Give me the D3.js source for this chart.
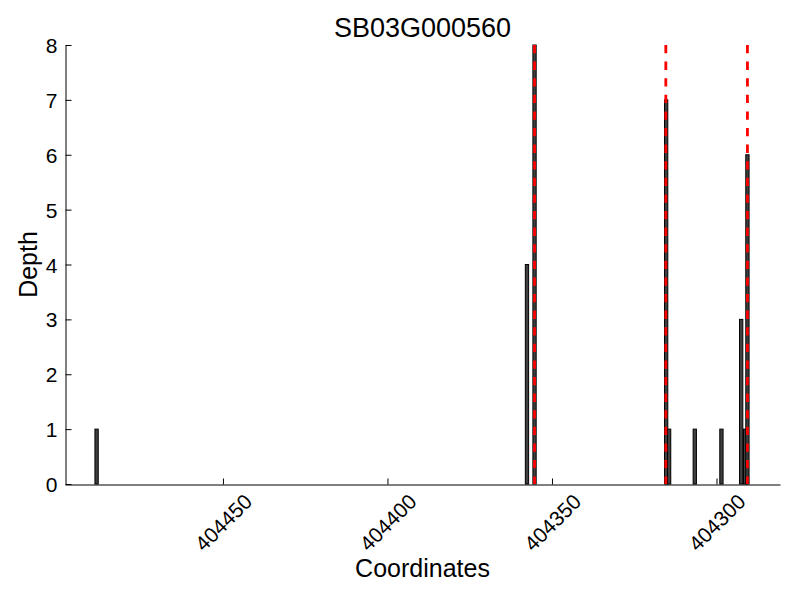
<!DOCTYPE html>
<html>
<head>
<meta charset="utf-8">
<script src="https://cdn.jsdelivr.net/npm/d3@7"></script>
<style>
  body { margin: 0; background: #fff; }
  svg text { font-family: "Liberation Sans", Arial, sans-serif; fill: #000; }
</style>
</head>
<body>
<svg id="chart" width="800" height="600"></svg>
<script>
// read depths, coordinate of each bar (axis runs high -> low)
var barCoords = [404488.4, 404357.6, 404355.3, 404315.3, 404314.4, 404306.6, 404298.5, 404292.5, 404291.3, 404290.6];
var barDepths = [1, 4, 8, 7, 1, 1, 1, 3, 1, 6];
// red dashed marker positions
var markCoords = [404355.3, 404315.4, 404290.6];
var xTicks = [404450, 404400, 404350, 404300];
var yTicks = [0, 1, 2, 3, 4, 5, 6, 7, 8];

var plotLeft = 65, plotRight = 780, plotTop = 45, plotBottom = 484;

var svg = d3.select("#chart");

var x = d3.scaleLinear().domain([404498, 404280.7]).range([plotLeft, plotRight]);
var y = d3.scaleLinear().domain([0, 8]).range([plotBottom, plotTop]);
var unit = Math.abs(x(0) - x(1));

// bars
svg.append("g").selectAll("rect")
    .data(barCoords)
    .enter().append("rect")
    .attr("x", function(d) { return x(d) - unit / 2; })
    .attr("y", function(d, i) { return y(barDepths[i]); })
    .attr("width", unit)
    .attr("height", function(d, i) { return plotBottom - y(barDepths[i]); })
    .attr("fill", "#404040")
    .attr("stroke", "#000")
    .attr("stroke-width", 1);

// red dashed lines
svg.append("g").selectAll("line")
    .data(markCoords)
    .enter().append("line")
    .attr("x1", function(d) { return x(d); })
    .attr("x2", function(d) { return x(d); })
    .attr("y1", plotTop)
    .attr("y2", plotBottom)
    .attr("stroke", "#ff0000")
    .attr("stroke-width", 2.8)
    .attr("stroke-dasharray", "8.3,8.3");

// y axis
var yAxis = d3.axisLeft(y).tickValues(yTicks).tickFormat(d3.format("d"))
    .tickSizeInner(-6).tickSizeOuter(0).tickPadding(8);
var gy = svg.append("g").attr("transform", "translate(" + (plotLeft + 0.5) + ",0)").call(yAxis);
gy.selectAll("text").style("font-size", "21px").attr("dy", "0.36em");
gy.selectAll("line, path").attr("stroke", "#000");

// x axis
var xAxis = d3.axisBottom(x).tickValues(xTicks).tickFormat(d3.format("d"))
    .tickSizeInner(-6).tickSizeOuter(0);
var gx = svg.append("g").attr("transform", "translate(0," + (plotBottom + 0.5) + ")").call(xAxis);
gx.selectAll("line, path").attr("stroke", "#000");
gx.selectAll("text")
    .style("font-size", "21px")
    .attr("y", 0)
    .attr("dy", "0.35em")
    .attr("text-anchor", "middle")
    .attr("transform", "translate(0,38) rotate(-45)");

// titles
svg.append("text").attr("x", (plotLeft + plotRight) / 2).attr("y", 37)
    .attr("text-anchor", "middle").style("font-size", "27px").text("SB03G000560");
svg.append("text").attr("x", (plotLeft + plotRight) / 2).attr("y", 577)
    .attr("text-anchor", "middle").style("font-size", "25px").text("Coordinates");
svg.append("text").attr("transform", "translate(37," + ((plotTop + plotBottom) / 2) + ") rotate(-90)")
    .attr("text-anchor", "middle").style("font-size", "25px").text("Depth");
</script>
</body>
</html>
